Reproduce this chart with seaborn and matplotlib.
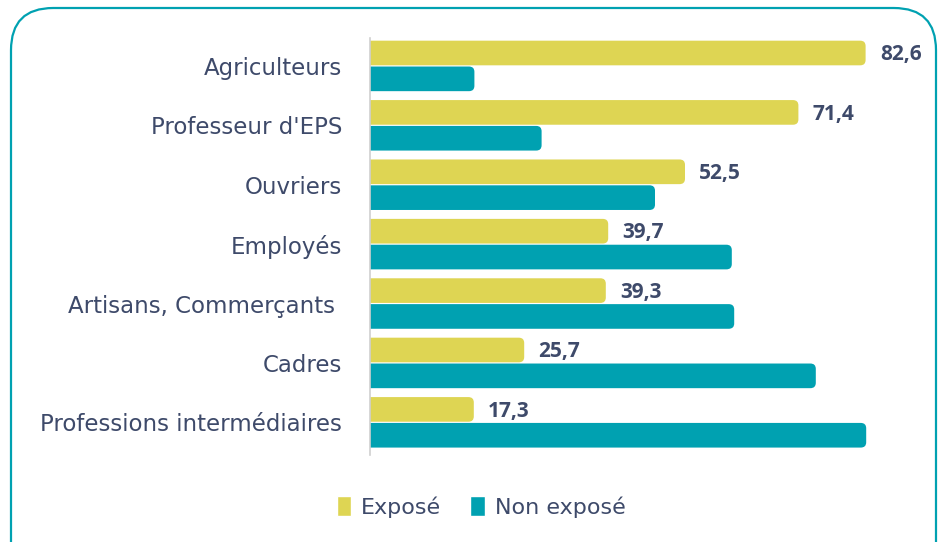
import matplotlib
matplotlib.use('Agg')
import matplotlib.pyplot as plt
from matplotlib.patches import FancyBboxPatch, Patch
import pandas as pd
import seaborn as sns

# data
categories = ['Agriculteurs', "Professeur d'EPS", 'Ouvriers', 'Employés',
              'Artisans, Commerçants ', 'Cadres', 'Professions intermédiaires']
expose = [82.6, 71.4, 52.5, 39.7, 39.3, 25.7, 17.3]
non_expose = [17.4, 28.6, 47.5, 60.3, 60.7, 74.3, 82.7]
series = ['Exposé', 'Non exposé']

yellow = '#DED553'
teal = '#00A1B1'
txt = '#3E4A6A'

df = pd.DataFrame({
    'cat': categories * 2,
    'val': expose + non_expose,
    'serie': [series[0]] * len(categories) + [series[1]] * len(categories),
})

sns.set_style('white')
plt.rcParams['font.family'] = ['DejaVu Sans']

fig = plt.figure(figsize=(9.38, 5.42), dpi=100)
ax = fig.add_axes([370 / 938, 87 / 542, 540 / 938, 417 / 542])

sns.barplot(data=df, y='cat', x='val', hue='serie', orient='h',
            palette=[yellow, teal], order=categories, hue_order=series,
            width=0.87, saturation=1, legend=False, ax=ax)

# swap plain rectangles for bars with rounded right ends
for p in list(ax.patches):
    x, y = p.get_x(), p.get_y()
    w, h = p.get_width(), p.get_height()
    if w == 0:
        continue
    p.set_visible(False)
    fb = FancyBboxPatch((x - 2, y + 0.01), w + 2, h - 0.02,
                        boxstyle='round,pad=0,rounding_size=0.9',
                        mutation_aspect=0.1, facecolor=p.get_facecolor(),
                        edgecolor='none', clip_on=True)
    ax.add_patch(fb)

ax.set_xlim(0, 90)
ax.set_ylim(6.55, -0.47)
ax.set_xlabel('')
ax.set_ylabel('')
ax.set_xticks([])
for s in ['top', 'right', 'bottom']:
    ax.spines[s].set_visible(False)
ax.spines['left'].set_color('#D0D0D0')
ax.spines['left'].set_linewidth(1.2)
ax.tick_params(axis='y', length=0, pad=20, labelsize=16.5, labelcolor=txt)

# value labels on the "Exposé" bars
for i, v in enumerate(expose):
    ax.text(v + 2.4, i - 0.19, f'{v:.1f}'.replace('.', ','), va='center',
            ha='left', fontsize=15, fontweight='bold', color=txt,
            family='Open Sans', clip_on=False)

handles = [Patch(facecolor=yellow, label=series[0]),
           Patch(facecolor=teal, label=series[1])]
fig.legend(handles=handles, loc='center', bbox_to_anchor=(481 / 938, 1 - 507 / 542),
           ncol=2, frameon=False, fontsize=16, handlelength=0.65, handleheight=1.0,
           handletextpad=0.45, columnspacing=1.3, labelcolor=txt)

# rounded frame around the chart
frame = FancyBboxPatch((11 / 938, -0.1), 925 / 938, 1.1 - 8 / 542,
                       boxstyle='round,pad=0,rounding_size=0.045',
                       mutation_aspect=938 / 542, transform=fig.transFigure,
                       facecolor='none', edgecolor=teal, linewidth=1.6,
                       clip_on=False)
fig.patches.append(frame)

fig.savefig('out.png', dpi=100)
